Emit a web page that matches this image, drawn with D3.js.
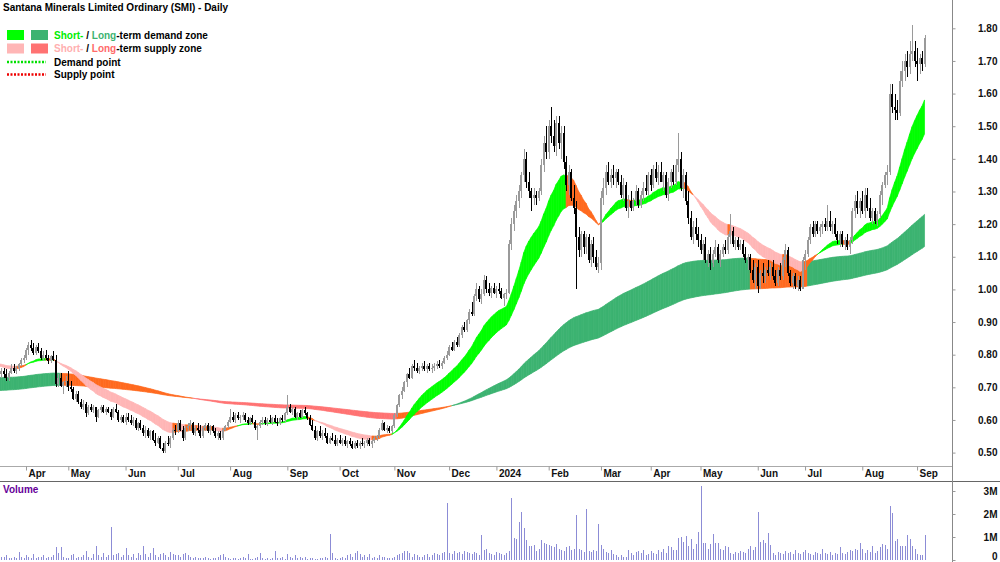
<!DOCTYPE html>
<html>
<head>
<meta charset="utf-8">
<script src="https://cdnjs.cloudflare.com/ajax/libs/d3/7.8.5/d3.min.js"></script>
<style>
  body { margin: 0; background: #fff; }
  svg text { font-family: "Liberation Sans", Arial, sans-serif; font-weight: bold; font-size: 10px; }
  .axis path, .axis line { stroke: #999; }
  .axis text { fill: #111; font-size: 10px; }
</style>
</head>
<body>
<div id="chart"></div>
<script>
const title = "Santana Minerals Limited Ordinary (SMI) - Daily";
const firstDay = "2023-03-20";
const holidays = ["2023-04-07", "2023-04-10", "2023-04-25", "2023-06-12", "2023-12-25", "2023-12-26",
  "2024-01-01", "2024-01-26", "2024-03-29", "2024-04-01", "2024-04-25", "2024-06-10"];

// [open, high, low, close] per trading day
const prices = [
  // Mar 2023
  [.74,.76,.73,.75],[.75,.76,.73,.74],[.74,.755,.72,.73],[.73,.75,.72,.745],[.745,.77,.74,.76],[.76,.77,.745,.75],[.75,.765,.74,.76],[.76,.775,.75,.77],[.77,.79,.765,.785],[.785,.80,.775,.79],
  // Apr
  [.79,.82,.785,.815],[.815,.84,.80,.83],[.83,.845,.81,.82],[.82,.835,.80,.805],[.805,.83,.80,.825],[.825,.835,.805,.81],[.81,.82,.785,.79],[.79,.81,.78,.80],[.80,.815,.785,.79],[.79,.80,.77,.78],[.78,.80,.775,.795],[.795,.81,.78,.785],[.785,.80,.70,.71],[.71,.74,.70,.73],[.73,.745,.70,.705],[.705,.72,.68,.715],[.715,.735,.70,.72],
  // May
  [.72,.75,.69,.70],[.70,.72,.685,.695],[.695,.70,.66,.665],[.665,.69,.655,.68],[.68,.69,.65,.655],[.655,.665,.635,.64],[.64,.66,.63,.65],[.65,.655,.61,.62],[.62,.645,.615,.64],[.64,.65,.625,.63],[.63,.645,.62,.64],[.64,.64,.595,.61],[.61,.635,.605,.63],[.63,.645,.62,.64],[.64,.645,.62,.625],[.625,.64,.615,.635],[.635,.64,.62,.625],[.625,.635,.60,.61],[.61,.64,.605,.635],[.635,.65,.62,.625],[.625,.63,.595,.60],[.60,.615,.59,.61],[.61,.615,.59,.595],
  // Jun
  [.595,.62,.585,.61],[.61,.62,.595,.60],[.60,.615,.585,.59],[.59,.61,.58,.60],[.60,.605,.57,.575],[.575,.595,.565,.59],[.59,.60,.57,.575],[.575,.585,.55,.56],[.56,.58,.545,.57],[.57,.575,.545,.55],[.55,.57,.54,.565],[.565,.57,.535,.54],[.54,.56,.52,.53],[.53,.55,.525,.545],[.545,.55,.51,.515],[.515,.53,.50,.505],[.505,.535,.50,.53],[.53,.55,.52,.525],[.525,.55,.515,.545],[.545,.575,.54,.57],[.57,.585,.555,.565],
  // Jul
  [.565,.60,.56,.59],[.59,.60,.565,.57],[.57,.58,.535,.545],[.545,.58,.54,.575],[.575,.59,.565,.58],[.58,.60,.57,.59],[.59,.595,.555,.56],[.56,.58,.55,.575],[.575,.59,.56,.57],[.57,.585,.545,.55],[.55,.58,.545,.575],[.575,.59,.565,.585],[.585,.59,.56,.565],[.565,.585,.555,.58],[.58,.585,.56,.565],[.565,.575,.545,.55],[.55,.565,.54,.56],[.56,.565,.54,.545],[.545,.575,.54,.57],[.57,.585,.565,.58],[.58,.60,.575,.595],
  // Aug
  [.595,.635,.59,.61],[.61,.625,.595,.60],[.60,.62,.59,.615],[.615,.625,.60,.605],[.605,.615,.59,.61],[.61,.625,.60,.615],[.615,.62,.595,.60],[.60,.61,.585,.59],[.59,.61,.585,.605],[.605,.615,.59,.595],[.595,.60,.57,.575],[.575,.585,.54,.58],[.58,.60,.575,.595],[.595,.61,.585,.60],[.60,.61,.585,.59],[.59,.605,.58,.60],[.60,.615,.59,.595],[.595,.61,.585,.605],[.605,.615,.59,.595],[.595,.605,.58,.59],[.59,.61,.585,.605],[.605,.615,.595,.60],[.60,.625,.595,.62],
  // Sep
  [.62,.675,.615,.64],[.64,.65,.62,.625],[.625,.64,.615,.635],[.635,.64,.605,.61],[.61,.625,.60,.62],[.62,.63,.605,.61],[.61,.635,.605,.63],[.63,.64,.615,.62],[.62,.625,.60,.605],[.605,.615,.58,.585],[.585,.60,.565,.57],[.57,.58,.54,.545],[.545,.57,.535,.565],[.565,.58,.545,.55],[.55,.57,.54,.56],[.56,.575,.545,.55],[.55,.56,.525,.53],[.53,.55,.525,.545],[.545,.56,.535,.54],[.54,.555,.52,.525],[.525,.545,.52,.54],
  // Oct
  [.54,.555,.525,.53],[.53,.545,.52,.54],[.54,.55,.52,.525],[.525,.54,.515,.535],[.535,.545,.52,.525],[.525,.535,.51,.515],[.515,.535,.51,.53],[.53,.54,.515,.52],[.52,.535,.51,.53],[.53,.545,.52,.525],[.525,.535,.515,.53],[.53,.545,.52,.54],[.54,.545,.52,.525],[.525,.54,.515,.535],[.535,.55,.53,.545],[.545,.555,.535,.55],[.55,.575,.545,.57],[.57,.60,.565,.59],[.59,.595,.565,.57],[.57,.585,.56,.575],[.575,.58,.56,.565],[.565,.585,.56,.58],
  // Nov
  [.58,.62,.575,.615],[.615,.65,.61,.645],[.645,.68,.64,.675],[.675,.70,.665,.69],[.69,.72,.685,.715],[.715,.745,.70,.74],[.74,.76,.725,.73],[.73,.77,.725,.765],[.765,.785,.75,.76],[.76,.775,.745,.75],[.75,.765,.74,.76],[.76,.775,.75,.765],[.765,.78,.75,.755],[.755,.77,.745,.765],[.765,.775,.75,.755],[.755,.77,.745,.76],[.76,.775,.75,.765],[.765,.78,.755,.77],[.77,.785,.76,.765],[.765,.78,.755,.775],[.775,.795,.77,.79],[.79,.81,.785,.80],
  // Dec
  [.80,.83,.795,.825],[.825,.84,.81,.815],[.815,.845,.81,.84],[.84,.855,.825,.83],[.83,.865,.825,.86],[.86,.89,.85,.885],[.885,.90,.87,.875],[.875,.91,.87,.905],[.905,.94,.895,.93],[.93,.96,.92,.925],[.925,.985,.92,.98],[.98,1.02,.965,1.0],[1.0,1.01,.96,.97],[.97,1.0,.955,.985],[.985,1.045,.98,1.03],[1.03,1.04,.99,1.0],[1.0,1.02,.98,.99],[.99,1.01,.975,1.005],[1.005,1.02,.985,.99],
  // Jan 2024
  [.99,1.01,.975,1.0],[1.0,1.02,.985,.995],[.995,1.005,.97,.975],[.975,.99,.95,.985],[.985,1.0,.97,.99],[.99,1.15,.985,1.14],[1.14,1.22,1.12,1.20],[1.20,1.26,1.18,1.24],[1.24,1.29,1.22,1.27],[1.27,1.32,1.25,1.30],[1.30,1.36,1.28,1.35],[1.35,1.43,1.33,1.40],[1.40,1.42,1.31,1.33],[1.33,1.36,1.28,1.30],[1.30,1.31,1.24,1.28],[1.28,1.31,1.26,1.29],[1.29,1.30,1.26,1.28],[1.28,1.31,1.27,1.30],[1.30,1.40,1.29,1.38],[1.38,1.47,1.36,1.45],[1.45,1.50,1.40,1.42],
  // Feb
  [1.42,1.52,1.40,1.50],[1.50,1.56,1.45,1.47],[1.47,1.52,1.42,1.44],[1.44,1.53,1.41,1.51],[1.51,1.53,1.43,1.45],[1.45,1.50,1.40,1.48],[1.48,1.50,1.37,1.39],[1.39,1.41,1.30,1.32],[1.32,1.38,1.29,1.36],[1.36,1.37,1.27,1.28],[1.28,1.32,1.23,1.25],[1.25,1.27,1.00,1.16],[1.16,1.19,1.10,1.12],[1.12,1.18,1.10,1.17],[1.17,1.18,1.11,1.13],[1.13,1.17,1.11,1.16],[1.16,1.17,1.08,1.09],[1.09,1.15,1.07,1.14],[1.14,1.16,1.08,1.10],[1.10,1.12,1.06,1.07],[1.07,1.10,1.05,1.08],
  // Mar
  [1.08,1.30,1.06,1.28],[1.28,1.34,1.26,1.31],[1.31,1.38,1.29,1.36],[1.36,1.39,1.32,1.33],[1.33,1.37,1.31,1.35],[1.35,1.38,1.32,1.34],[1.34,1.37,1.31,1.36],[1.36,1.37,1.32,1.33],[1.33,1.35,1.28,1.29],[1.29,1.34,1.27,1.32],[1.32,1.33,1.24,1.25],[1.25,1.29,1.22,1.27],[1.27,1.30,1.24,1.25],[1.25,1.28,1.24,1.27],[1.27,1.32,1.26,1.30],[1.30,1.31,1.25,1.26],[1.26,1.30,1.25,1.29],[1.29,1.33,1.27,1.31],[1.31,1.35,1.29,1.30],[1.30,1.36,1.29,1.35],
  // Apr
  [1.35,1.37,1.30,1.32],[1.32,1.38,1.31,1.37],[1.37,1.39,1.33,1.34],[1.34,1.38,1.32,1.36],[1.36,1.39,1.33,1.33],[1.33,1.36,1.30,1.35],[1.35,1.36,1.28,1.29],[1.29,1.34,1.27,1.33],[1.33,1.37,1.31,1.36],[1.36,1.38,1.32,1.33],[1.33,1.40,1.32,1.38],[1.38,1.48,1.36,1.40],[1.40,1.42,1.30,1.31],[1.31,1.37,1.28,1.35],[1.35,1.36,1.26,1.27],[1.27,1.30,1.20,1.22],[1.22,1.24,1.15,1.16],[1.16,1.21,1.14,1.19],[1.19,1.22,1.15,1.17],[1.17,1.19,1.13,1.15],
  // May
  [1.15,1.17,1.11,1.12],[1.12,1.15,1.09,1.14],[1.14,1.16,1.08,1.09],[1.09,1.12,1.07,1.11],[1.11,1.13,1.06,1.08],[1.08,1.12,1.07,1.11],[1.11,1.15,1.10,1.13],[1.13,1.14,1.08,1.09],[1.09,1.12,1.07,1.11],[1.11,1.14,1.10,1.13],[1.13,1.15,1.11,1.12],[1.12,1.17,1.11,1.16],[1.16,1.23,1.14,1.18],[1.18,1.19,1.13,1.14],[1.14,1.16,1.12,1.15],[1.15,1.16,1.12,1.13],[1.13,1.15,1.12,1.14],[1.14,1.15,1.10,1.11],[1.11,1.13,1.08,1.09],[1.09,1.11,1.06,1.10],[1.10,1.11,1.05,1.06],[1.06,1.09,1.02,1.03],[1.03,1.08,1.00,1.07],
  // Jun
  [1.07,1.09,.99,1.01],[1.01,1.06,1.00,1.05],[1.05,1.08,1.02,1.04],[1.04,1.07,1.02,1.06],[1.06,1.09,1.04,1.05],[1.05,1.08,1.03,1.07],[1.07,1.09,1.03,1.04],[1.04,1.06,1.01,1.02],[1.02,1.07,1.01,1.06],[1.06,1.08,1.03,1.04],[1.04,1.10,1.03,1.09],[1.09,1.14,1.07,1.12],[1.12,1.13,1.04,1.05],[1.05,1.06,1.01,1.02],[1.02,1.05,1.00,1.04],[1.04,1.05,1.00,1.01],[1.01,1.04,.995,1.03],[1.03,1.04,.995,1.00],[1.00,1.10,1.00,1.09],
  // Jul
  [1.09,1.12,1.06,1.11],[1.11,1.16,1.10,1.15],[1.15,1.20,1.14,1.19],[1.19,1.21,1.16,1.17],[1.17,1.21,1.16,1.20],[1.20,1.21,1.17,1.18],[1.18,1.20,1.16,1.19],[1.19,1.21,1.17,1.20],[1.20,1.22,1.18,1.19],[1.19,1.26,1.18,1.21],[1.21,1.24,1.18,1.19],[1.19,1.21,1.17,1.20],[1.20,1.22,1.16,1.17],[1.17,1.18,1.14,1.15],[1.15,1.18,1.13,1.17],[1.17,1.18,1.13,1.14],[1.14,1.16,1.12,1.15],[1.15,1.17,1.12,1.13],[1.13,1.16,1.11,1.15],[1.15,1.25,1.14,1.24],[1.24,1.29,1.22,1.27],[1.27,1.30,1.23,1.25],[1.25,1.28,1.22,1.27],
  // Aug
  [1.27,1.30,1.23,1.24],[1.24,1.31,1.22,1.29],[1.29,1.31,1.24,1.25],[1.25,1.28,1.21,1.22],[1.22,1.25,1.20,1.24],[1.24,1.25,1.20,1.21],[1.21,1.24,1.195,1.23],[1.23,1.30,1.22,1.29],[1.29,1.33,1.26,1.32],[1.32,1.36,1.31,1.35],[1.35,1.38,1.32,1.36],[1.36,1.63,1.35,1.60],[1.60,1.63,1.54,1.56],[1.56,1.60,1.52,1.55],[1.55,1.58,1.52,1.54],[1.54,1.67,1.53,1.64],[1.64,1.70,1.62,1.67],[1.67,1.72,1.64,1.70],[1.70,1.73,1.65,1.68],[1.68,1.76,1.66,1.72],[1.72,1.81,1.70,1.73],[1.73,1.76,1.68,1.70],
  // Sep
  [1.70,1.74,1.64,1.69],[1.69,1.72,1.66,1.71],[1.71,1.73,1.67,1.69],[1.69,1.78,1.68,1.77]
];

// shares traded, millions
const volumes = [
  .15,.12,.2,.08,.1,.15,.1,.35,.12,.1,
  .2,.15,.08,.25,.1,.15,.12,.2,.1,.15,.12,.2,.57,.3,.57,.15,.1,
  .1,.2,.25,.1,.15,.12,.2,.4,.15,.1,.25,.6,.2,.15,.3,.12,.2,1.43,.2,.25,.3,.15,.2,
  .52,.2,.15,.25,.1,.3,.2,.6,.25,.15,.3,.52,.2,.15,.25,.3,.2,.15,.35,.25,.2,
  .2,.15,.25,.3,.2,.15,.1,.12,.1,.08,.1,.12,.1,.05,.08,.1,.12,.2,.25,.15,.1,
  .05,.1,.08,.06,.1,.12,.08,.25,.06,.05,.08,.12,.3,.1,.05,.08,.06,.1,.4,.1,.08,.12,.05,
  .25,.12,.1,.2,.08,.15,.1,.12,.06,.1,.08,.05,.06,.1,.08,.12,.1,1.13,.3,.1,.05,
  .1,.15,.08,.2,.25,.15,.3,.4,.25,.15,.2,.12,.25,.1,.15,.08,.2,.12,.15,.1,.08,.1,
  .12,.2,.25,.3,.4,.4,.3,.15,.25,.2,.15,.12,.2,.25,.15,.2,.3,.25,.2,.3,.35,2.48,
  .3,.25,.4,.3,.35,.25,.4,.35,.3,.25,.35,.3,.2,1.09,.45,.5,.3,.25,.2,
  .35,.3,.25,.2,.3,.4,2.7,.96,.9,1.65,2.09,1.39,.87,.6,.62,.65,.4,.5,.85,.75,.7,
  .65,.6,.55,.7,.5,.45,.4,.55,.6,.45,.5,1.96,.5,.45,.35,2.22,.4,.35,.45,.4,1.57,
  .65,.5,.35,.3,.45,.25,.2,.15,.2,.12,.15,.45,.3,.2,.35,.4,.3,.45,.2,.25,
  .4,.3,.25,.45,.35,.5,.3,.6,.55,.45,.45,.96,1.0,.8,1.04,.6,.9,.5,.7,1.22,
  3.2,.75,.74,.5,.7,1.13,.75,.74,.5,.45,.6,.55,.3,.25,.35,.3,.4,.35,.3,.5,.6,.45,.55,
  2.1,.8,.85,.75,1.17,.65,.3,.2,.35,.3,.25,.4,.3,.35,.25,.45,.3,.25,.35,
  .45,.3,.25,.2,.35,.3,.25,.5,.3,.25,.35,.2,.3,.25,.55,.3,.25,.35,.45,.4,.5,.45,.74,
  .5,.3,.45,.35,.6,.3,.4,.55,.7,.65,.5,2.35,2.04,.83,.9,.6,.6,.6,1.09,.9,.6,.5,
  .25,.2,.2,1.09
];

const priceTicks = [0.5, 0.6, 0.7, 0.8, 0.9, 1.0, 1.1, 1.2, 1.3, 1.4, 1.5, 1.6, 1.7, 1.8];
const volumeTicks = [0, 1, 2, 3];
const volumeLabels = ["0", "1M", "2M", "3M"];
const monthNames = ["2024", "Feb", "Mar", "Apr", "May", "Jun", "Jul", "Aug", "Sep", "Oct", "Nov", "Dec"];

// zone EMA periods [fast, slow] and their values the day before the first bar
const shortZone = [21, 36];
const longZone = [150, 240];
const shortZoneStart = [0.765, 0.772];
const longZoneStart = [0.73, 0.69];


CandleChart = function(_parentElement) {
  this.parentElement = _parentElement;
  this.initVis();
};


CandleChart.prototype.initVis = function() {
  let vis = this;

  vis.width = 1000;
  vis.height = 562;
  vis.axisX = 952;
  vis.priceBottom = 466;
  vis.dateBottom = 481;

  vis.svg = d3.select("#" + vis.parentElement).append("svg")
    .attr("width", vis.width)
    .attr("height", vis.height);

  vis.svg.append("clipPath")
    .attr("id", "price-clip")
    .append("rect")
    .attr("width", vis.axisX)
    .attr("height", vis.priceBottom);

  vis.step = 2.489;
  vis.x = d3.scaleLinear()
    .domain([0, prices.length - 1])
    .range([1.1, 1.1 + (prices.length - 1) * vis.step]);

  vis.y = d3.scaleLinear()
    .domain([0.5, 1.8])
    .range([452.6, 28.3]);

  vis.yVol = d3.scaleLinear()
    .domain([0, 3])
    .range([560, 491]);

  vis.wrangleData();
};


CandleChart.prototype.wrangleData = function() {
  let vis = this;

  // trading days
  let parse = d3.timeParse("%Y-%m-%d"),
    fmt = d3.timeFormat("%Y-%m-%d"),
    day = parse(firstDay);
  vis.dates = [];
  while (vis.dates.length < prices.length) {
    if (day.getDay() != 0 && day.getDay() != 6 && holidays.indexOf(fmt(day)) < 0) {
      vis.dates.push(day);
    }
    day = d3.timeDay.offset(day, 1);
  }

  vis.monthTicks = [];
  vis.dates.forEach(function(d, i) {
    if (i > 0 && d.getMonth() != vis.dates[i - 1].getMonth()) {
      vis.monthTicks.push({ i: i, label: monthNames[d.getMonth()] });
    }
  });

  vis.candles = prices.map(function(p, i) {
    return { i: i, open: p[0], high: p[1], low: p[2], close: p[3], volume: volumes[i] };
  });

  let closes = prices.map(function(p) { return p[3]; });

  function ema(period, start) {
    let k = 2 / (period + 1), last = start;
    return [start].concat(closes.map(function(v) {
      last += k * (v - last);
      return last;
    }));
  }

  // demand: fast above slow and rising; supply: below and falling; otherwise turning
  function segments(periods, starts, lookback, colors) {
    let fast = ema(periods[0], starts[0]),
      slow = ema(periods[1], starts[1]),
      out = [];
    for (let j = 1; j < fast.length; j++) {
      let rising = fast[j] >= fast[Math.max(0, j - lookback)], state;
      if (fast[j] >= slow[j]) state = rising ? "demand" : "turn";
      else state = rising ? "turn" : "supply";
      out.push({
        color: colors[state],
        pts: [
          { i: j - 2, a: fast[j - 1], b: slow[j - 1] },
          { i: j - 1, a: fast[j], b: slow[j] }
        ]
      });
    }
    return out;
  }

  vis.longSegments = segments(longZone, longZoneStart, 6,
    { demand: "#3cb371", supply: "#ff7272", turn: "#ff6a1f" });
  vis.shortSegments = segments(shortZone, shortZoneStart, 2,
    { demand: "#00ff00", supply: "#ffb6b6", turn: "#ff6a1f" });

  vis.updateVis();
};


CandleChart.prototype.updateVis = function() {
  let vis = this;

  let zoneArea = d3.area()
    .x(function(d) { return vis.x(d.i); })
    .y0(function(d) { return vis.y(d.a); })
    .y1(function(d) { return vis.y(d.b); });

  let plot = vis.svg.append("g")
    .attr("clip-path", "url(#price-clip)");

  // zones: long-term under short-term
  [vis.longSegments, vis.shortSegments].forEach(function(segs) {
    plot.append("g").selectAll("path")
      .data(segs)
      .enter().append("path")
      .attr("d", function(d) { return zoneArea(d.pts); })
      .attr("fill", function(d) { return d.color; })
      .attr("stroke", function(d) { return d.color; })
      .attr("stroke-width", 0.7);
  });

  // candles
  let candle = plot.append("g")
    .attr("shape-rendering", "crispEdges")
    .selectAll("g")
    .data(vis.candles)
    .enter().append("g");

  let colour = function(d) { return d.close >= d.open ? "#9a9a9a" : "#000"; };

  candle.append("rect")
    .attr("x", function(d) { return Math.round(vis.x(d.i)); })
    .attr("width", 1)
    .attr("y", function(d) { return vis.y(d.high); })
    .attr("height", function(d) { return vis.y(d.low) - vis.y(d.high); })
    .attr("fill", colour);

  candle.append("rect")
    .attr("x", function(d) { return Math.round(vis.x(d.i)) - 1; })
    .attr("width", 2)
    .attr("y", function(d) { return vis.y(Math.max(d.open, d.close)); })
    .attr("height", function(d) { return Math.max(1, Math.abs(vis.y(d.open) - vis.y(d.close))); })
    .attr("fill", colour);

  // volume
  vis.svg.append("g")
    .attr("shape-rendering", "crispEdges")
    .selectAll("rect")
    .data(vis.candles)
    .enter().append("rect")
    .attr("x", function(d) { return Math.round(vis.x(d.i)); })
    .attr("width", 1)
    .attr("y", function(d) { return vis.yVol(d.volume); })
    .attr("height", function(d) { return vis.yVol(0) - vis.yVol(d.volume); })
    .attr("fill", "#8c8cd6");

  // frame lines
  vis.svg.append("line")
    .attr("x1", 0).attr("x2", vis.axisX)
    .attr("y1", vis.priceBottom + 0.5).attr("y2", vis.priceBottom + 0.5)
    .attr("stroke", "#aaa");
  vis.svg.append("line")
    .attr("x1", 0).attr("x2", vis.width)
    .attr("y1", vis.dateBottom + 0.5).attr("y2", vis.dateBottom + 0.5)
    .attr("stroke", "#666");
  vis.svg.append("line")
    .attr("x1", vis.axisX + 0.5).attr("x2", vis.axisX + 0.5)
    .attr("y1", 0).attr("y2", vis.height)
    .attr("stroke", "#888");

  // price axis
  let yAxis = d3.axisRight(vis.y)
    .tickValues(priceTicks)
    .tickFormat(d3.format(".2f"))
    .tickSize(3);

  let yAxisG = vis.svg.append("g")
    .attr("class", "axis")
    .attr("transform", "translate(" + (vis.axisX + 0.5) + ",0)")
    .call(yAxis);
  yAxisG.select(".domain").remove();
  yAxisG.selectAll("text").attr("x", 45).attr("text-anchor", "end");

  // volume axis
  let volAxis = d3.axisRight(vis.yVol)
    .tickValues(volumeTicks)
    .tickFormat(function(d, k) { return volumeLabels[k]; })
    .tickSize(3);

  let volAxisG = vis.svg.append("g")
    .attr("class", "axis")
    .attr("transform", "translate(" + (vis.axisX + 0.5) + ",0)")
    .call(volAxis);
  volAxisG.select(".domain").remove();
  volAxisG.selectAll("text")
    .attr("x", 45)
    .attr("text-anchor", "end")
    .attr("dy", function(d) { return d == 0 ? "-0.05em" : "0.32em"; });

  // month axis
  let xAxis = d3.axisBottom(vis.x)
    .tickValues(vis.monthTicks.map(function(d) { return d.i; }))
    .tickFormat(function(d) {
      return vis.monthTicks.find(function(m) { return m.i == d; }).label;
    })
    .tickSize(4);

  let xAxisG = vis.svg.append("g")
    .attr("class", "axis")
    .attr("transform", "translate(0," + (vis.priceBottom + 0.5) + ")")
    .call(xAxis);
  xAxisG.select(".domain").remove();
  xAxisG.selectAll("text")
    .attr("text-anchor", "start")
    .attr("x", 2)
    .attr("y", 3)
    .attr("dy", "0.71em");

  // title, legend
  vis.svg.append("text")
    .attr("x", 3).attr("y", 11)
    .text(title);

  vis.svg.append("text")
    .attr("x", 3).attr("y", 493)
    .attr("fill", "#660099")
    .text("Volume");

  let legend = vis.svg.append("g");

  let rows = [
    { y: 30, swatch: ["#00ff00", "#3cb371"], parts: [["Short-", "#00ee00"], [" / ", "#000"], ["Long", "#3cb371"], ["-term demand zone", "#000"]] },
    { y: 43.5, swatch: ["#ffb6b6", "#ff7272"], parts: [["Short-", "#ffb0b0"], [" / ", "#000"], ["Long", "#ff6a6a"], ["-term supply zone", "#000"]] },
    { y: 57, dots: "#00e000", parts: [["Demand point", "#000"]] },
    { y: 69.5, dots: "#ee0000", parts: [["Supply point", "#000"]] }
  ];

  rows.forEach(function(r) {
    if (r.swatch) {
      legend.append("rect").attr("x", 7).attr("y", r.y).attr("width", 17).attr("height", 10).attr("fill", r.swatch[0]);
      legend.append("rect").attr("x", 31).attr("y", r.y).attr("width", 17).attr("height", 10).attr("fill", r.swatch[1]);
    } else {
      legend.append("line")
        .attr("x1", 7).attr("x2", 46)
        .attr("y1", r.y + 5).attr("y2", r.y + 5)
        .attr("stroke", r.dots)
        .attr("stroke-width", 2.5)
        .attr("stroke-dasharray", "2,1.5");
    }
    let t = legend.append("text")
      .attr("x", 54).attr("y", r.y + 8.5);
    r.parts.forEach(function(p) {
      t.append("tspan").attr("fill", p[1]).text(p[0]);
    });
  });
};


new CandleChart("chart");
</script>
</body>
</html>
